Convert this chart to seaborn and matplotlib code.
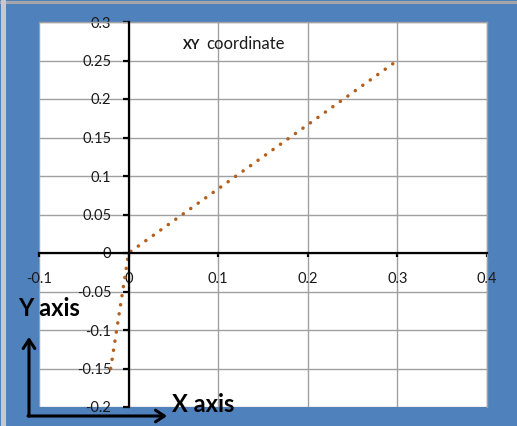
import matplotlib
matplotlib.use("Agg")
import matplotlib.pyplot as plt
import seaborn as sns
import pandas as pd
from matplotlib.lines import Line2D

# ---- data ----
x_values = [-0.02, 0.0, 0.3]
y_values = [-0.15, 0.0, 0.25]
x_ticks = [-0.1, 0.0, 0.1, 0.2, 0.3, 0.4]
x_tick_labels = ["-0.1", "0", "0.1", "0.2", "0.3", "0.4"]
y_ticks = [-0.2, -0.15, -0.1, -0.05, 0.0, 0.05, 0.1, 0.15, 0.2, 0.25, 0.3]
y_tick_labels = ["-0.2", "-0.15", "-0.1", "-0.05", "0", "0.05", "0.1", "0.15", "0.2", "0.25", "0.3"]
title_bold = "XY"
title_rest = "coordinate"
y_label = "Y axis"
x_label = "X axis"

sns.set_theme(style="white")
plt.rcParams['font.family'] = ['Lato', 'DejaVu Sans']

W, H = 517, 426
BLUE = "#4f81bd"
fig = plt.figure(figsize=(W / 100, H / 100), dpi=100, facecolor=BLUE)

# outer gray border on top and left
fig.add_artist(Line2D([0, 1], [1 - 1.5 / H, 1 - 1.5 / H], transform=fig.transFigure, color="#a6a6a6", lw=2.2))
fig.add_artist(Line2D([2.5 / W, 2.5 / W], [0, 1], transform=fig.transFigure, color="#c8c8c8", lw=3.6))

left, right, top, bottom = 39, 487, 22, 407
ax = fig.add_axes([left / W, (H - bottom) / H, (right - left) / W, (bottom - top) / H])
ax.set_facecolor("white")

df = pd.DataFrame({"x": x_values, "y": y_values})
sns.lineplot(data=df, x="x", y="y", sort=False, ax=ax, color="#b3601f",
             lw=2.5, linestyle=(0, (0.05, 2.6)), dash_capstyle="round")

ax.set_xlim(-0.1, 0.4)
ax.set_ylim(-0.2, 0.3)
ax.set_xticks(x_ticks)
ax.set_xticklabels(x_tick_labels)
ax.set_yticks(y_ticks)
ax.set_yticklabels(y_tick_labels)
ax.set_xlabel("")
ax.set_ylabel("")

ax.grid(True, color="#a0a0a0", lw=1.0)
ax.set_axisbelow(True)

for s in ["top", "right"]:
    ax.spines[s].set_visible(True)
    ax.spines[s].set_color("#a0a0a0")
    ax.spines[s].set_linewidth(1.0)
ax.spines["left"].set_position(("data", 0))
ax.spines["bottom"].set_position(("data", 0))
for s in ["left", "bottom"]:
    ax.spines[s].set_color("black")
    ax.spines[s].set_linewidth(1.6)
    ax.spines[s].set_zorder(3)

ax.tick_params(axis="y", direction="out", length=4, width=1.6, color="black", pad=8.5,
               labelsize=10.5, labelcolor="#1a1a1a", left=True)
ax.tick_params(axis="x", direction="out", length=3, width=1.6, color="black", pad=10.5,
               labelsize=10.5, labelcolor="#1a1a1a", bottom=True)

# title-like text inside the plot
fig.text(183 / W, 1 - 45 / H, title_bold, fontsize=9.5, fontweight="bold", ha="left", va="center", color="#1a1a1a")
fig.text(206 / W, 1 - 44 / H, title_rest, fontsize=12, ha="left", va="center", color="#1a1a1a")

# axis labels
fig.text(18 / W, 1 - 309 / H, y_label, fontsize=17, fontweight="bold", ha="left", va="center", color="black")
fig.text(172 / W, 1 - 404 / H, x_label, fontsize=17, fontweight="bold", ha="left", va="center", color="black")

# arrows
corner = (29, H - 416)
arrow_kw = dict(arrowstyle="->,head_length=0.45,head_width=0.3", lw=2.2, color="black",
                shrinkA=0, shrinkB=0, mutation_scale=14)
fig.add_artist(matplotlib.patches.FancyArrowPatch(
    (corner[0] / W, corner[1] / H), (29 / W, (H - 337) / H), transform=fig.transFigure, **arrow_kw))
fig.add_artist(matplotlib.patches.FancyArrowPatch(
    ((corner[0] - 1) / W, corner[1] / H), (167 / W, corner[1] / H), transform=fig.transFigure, **arrow_kw))

fig.savefig("out.png", dpi=100, facecolor=BLUE)
